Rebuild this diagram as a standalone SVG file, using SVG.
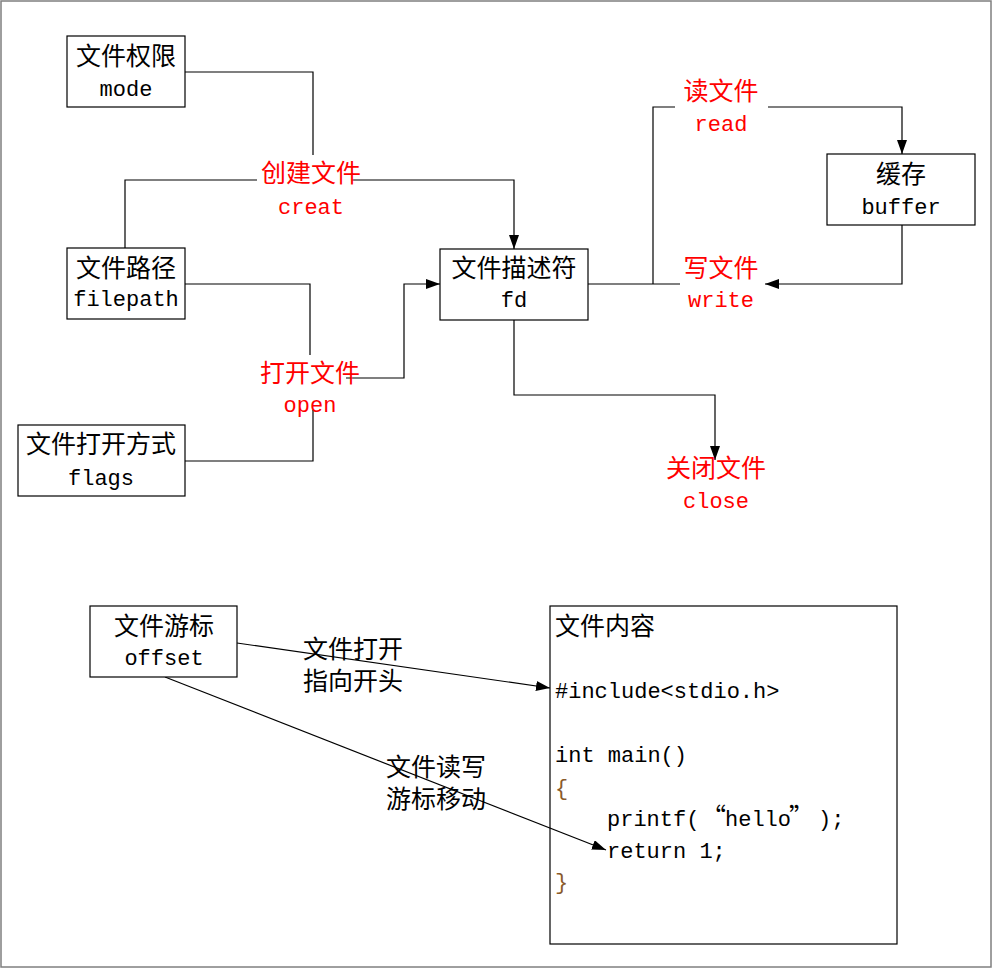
<svg xmlns="http://www.w3.org/2000/svg" width="993" height="969" viewBox="0 0 993 969">
<defs>
<marker id="arr" viewBox="0 0 14 10" refX="14" refY="5" markerWidth="14" markerHeight="10" markerUnits="userSpaceOnUse" orient="auto">
<path d="M0,0 L14,5 L0,10 Z" fill="#000"/>
</marker>
</defs>
<style>
.box{fill:#fff;stroke:#000;stroke-width:1.2}
.open{fill:none;stroke:#000;stroke-width:1.2}
.cn{font-family:"Noto Sans CJK SC","Noto Sans CJK TC",sans-serif;font-size:25px;fill:#000}
.en{font-family:"Liberation Mono","DejaVu Sans Mono",monospace;font-size:22px;fill:#000}
.red{fill:#ff0000}
.mid{text-anchor:middle}
.brace{fill:#8a5a2a}
.ln{fill:none;stroke:#000;stroke-width:1.2}
.ar{marker-end:url(#arr)}
</style>
<rect x="1" y="1" width="990" height="966" fill="#fff" stroke="#7f7f7f" stroke-width="1.5"/>

<g id="content">
<rect class="open" x="550" y="606" width="347" height="338"/>
<text class="cn" x="555" y="635">文件内容</text>
<text class="en" x="555" y="698">#include&lt;stdio.h&gt;</text>
<text class="en" x="555" y="762">int main()</text>
<text class="en brace" x="555" y="795">{</text>
<text class="en" x="607" y="826">printf(<tspan class="cn" x="701">“</tspan><tspan x="725">hello</tspan><tspan class="cn" x="789">”</tspan><tspan x="818">);</tspan></text>
<text class="en" x="607" y="858">return 1;</text>
<text class="en brace" x="555" y="889">}</text>
</g>

<g id="connectors">
<polyline class="ln" points="185,72 313,72 313,155"/>
<polyline class="ln" points="125,248 125,180 257,180"/>
<polyline class="ln ar" points="352,180 514,180 514,249"/>
<polyline class="ln" points="185,284 310,284 310,355"/>
<polyline class="ln" points="185,461 313,461 313,410"/>
<polyline class="ln ar" points="346,378 404,378 404,284 440,284"/>
<polyline class="ln" points="588,284 680,284"/>
<polyline class="ln" points="653,284 653,107 675,107"/>
<polyline class="ln ar" points="768,107 902,107 902,154"/>
<polyline class="ln ar" points="902,225 902,284 765,284"/>
<polyline class="ln ar" points="514,320 514,395 715,395 715,460"/>
<line class="ln ar" x1="237" y1="643" x2="550" y2="688"/>
<line class="ln ar" x1="165" y1="677" x2="606" y2="850"/>
</g>

<g id="mode">
<rect class="box" x="67" y="36" width="118" height="71"/>
<text class="cn mid" x="126" y="65">文件权限</text>
<text class="en mid" x="126" y="96">mode</text>
</g>
<g id="filepath">
<rect class="box" x="67" y="248" width="118" height="71"/>
<text class="cn mid" x="126" y="277">文件路径</text>
<text class="en mid" x="126" y="306">filepath</text>
</g>
<g id="flags">
<rect class="box" x="18" y="425" width="167" height="71"/>
<text class="cn mid" x="101" y="453">文件打开方式</text>
<text class="en mid" x="101" y="485">flags</text>
</g>
<g id="fd">
<rect class="box" x="440" y="249" width="148" height="71"/>
<text class="cn mid" x="514" y="277">文件描述符</text>
<text class="en mid" x="514" y="307">fd</text>
</g>
<g id="buffer">
<rect class="box" x="827" y="154" width="148" height="71"/>
<text class="cn mid" x="901" y="183">缓存</text>
<text class="en mid" x="901" y="214">buffer</text>
</g>
<g id="offset">
<rect class="box" x="90" y="606" width="147" height="71"/>
<text class="cn mid" x="164" y="635">文件游标</text>
<text class="en mid" x="164" y="665">offset</text>
</g>

<g id="label-creat">
<text class="cn red mid" x="311" y="182">创建文件</text>
<text class="en red mid" x="311" y="214">creat</text>
</g>
<g id="label-open">
<text class="cn red mid" x="310" y="382">打开文件</text>
<text class="en red mid" x="310" y="412">open</text>
</g>
<g id="label-read">
<text class="cn red mid" x="721" y="100">读文件</text>
<text class="en red mid" x="721" y="131">read</text>
</g>
<g id="label-write">
<text class="cn red mid" x="721" y="277">写文件</text>
<text class="en red mid" x="721" y="307">write</text>
</g>
<g id="label-close">
<text class="cn red mid" x="716" y="477">关闭文件</text>
<text class="en red mid" x="716" y="508">close</text>
</g>
<g id="label-open-offset">
<text class="cn" x="303" y="658">文件打开</text>
<text class="cn" x="303" y="690">指向开头</text>
</g>
<g id="label-rw-offset">
<text class="cn" x="386" y="776">文件读写</text>
<text class="cn" x="386" y="808">游标移动</text>
</g>
</svg>
